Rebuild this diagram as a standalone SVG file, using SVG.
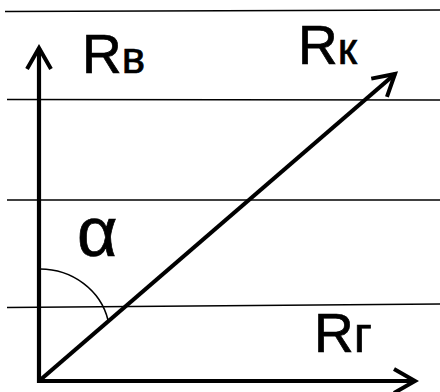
<svg xmlns="http://www.w3.org/2000/svg" width="440" height="392" viewBox="0 0 440 392">
<style>
.grid{stroke:#000;stroke-width:1.6;fill:none}
.axis{stroke:#000;stroke-width:4.2;fill:none}
.arc{stroke:#000;stroke-width:1.6;fill:none}
.lbl{font-family:"Liberation Sans",Arial,sans-serif;fill:#000;stroke:#000;stroke-width:0.7}
</style>
<defs>
<marker id="arr" viewBox="-26 -16 30 32" markerWidth="30" markerHeight="32" refX="0" refY="0" orient="auto" markerUnits="userSpaceOnUse">
<path d="M-21,-12 L0,0 L-21,12" fill="none" stroke="#000" stroke-width="4" stroke-linejoin="miter"/>
</marker>
</defs>
<rect width="440" height="392" fill="#fff"/>
<g id="gridlines">
<path class="grid" d="M5,11.5 L440,10"/>
<path class="grid" d="M7,99.5 L440,100"/>
<path class="grid" d="M7,200 L440,200"/>
<path class="grid" d="M7,307.5 L440,304"/>
</g>
<g id="connectors">
<path id="axis-v" class="axis" d="M39,383 L39,48" marker-end="url(#arr)"/>
<path id="axis-h" class="axis" d="M37,381 L415,381" marker-end="url(#arr)"/>
<path id="vector-k" class="axis" d="M39,381 L395,74" marker-end="url(#arr)"/>
<path id="angle-arc" class="arc" d="M40,269 A70,66 0 0 1 108,320"/>
</g>
<g id="label-rv"><text class="lbl" x="82" y="73" font-size="55">R<tspan font-size="44">в</tspan></text></g>
<g id="label-rk"><text class="lbl" x="298" y="64" font-size="55">R<tspan font-size="44">к</tspan></text></g>
<g id="label-rg"><text class="lbl" x="314" y="352" font-size="55">R<tspan font-size="50">г</tspan></text></g>
<g id="label-alpha"><text class="lbl" x="77" y="256" font-size="70">α</text></g>
</svg>
